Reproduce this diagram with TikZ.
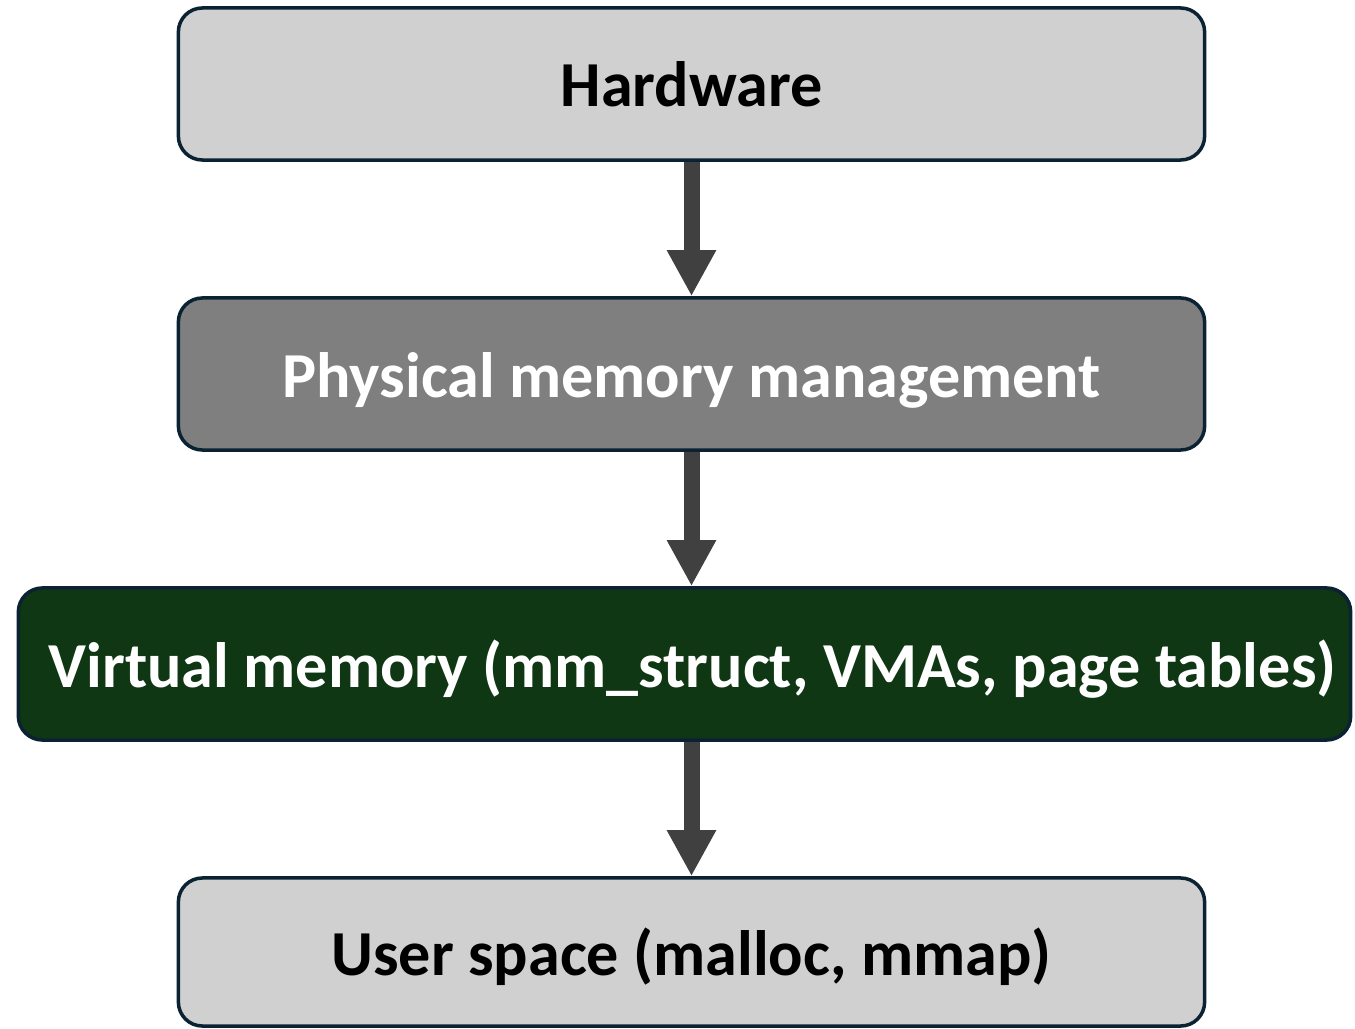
\documentclass[tikz,border=0pt]{standalone}
\usepackage{fontspec}
\setmainfont{Carlito}
\usetikzlibrary{positioning,arrows.meta}
\definecolor{boxline}{HTML}{0B2233}
\definecolor{lightbox}{HTML}{D0D0D0}
\definecolor{midbox}{HTML}{7F7F7F}
\definecolor{darkbox}{HTML}{0F3714}
\definecolor{arrowgray}{HTML}{404040}
\begin{document}
\begin{tikzpicture}[x=0.025cm, y=-0.025cm,
    layer node/.style={rectangle, rounded corners=0.6cm, draw=boxline, line width=2.5pt, minimum height=3.8cm, text height=1.15cm, text depth=0cm, font=\bfseries\fontsize{45.6}{54}\selectfont},
    thick arrow/.style={-{Triangle[width=1.15cm, length=1.15cm]}, line width=0.4cm, draw=arrowgray}]
        \useasboundingbox (0,0) rectangle (1355,1029);

          \node[layer node, fill=lightbox, minimum width=25.65cm] (hw) at (691.5,84) {Hardware};
          \node[layer node, fill=midbox, text=white, minimum width=25.65cm] (phys) at (691.5,374) {Physical memory management};
          \node[layer node, fill=darkbox, text=white, minimum width=33.3cm] (virt) at (684.5,664) {\hspace*{0.4cm}Virtual memory (mm\_struct, VMAs, page tables)};
          \node[layer node, fill=lightbox, minimum width=25.65cm, minimum height=3.7cm] (user) at (691.5,952) {User space (malloc, mmap)};

          \draw[thick arrow] (hw.south) -- (phys.north);
          \draw[thick arrow] (phys.south) -- (virt.north -| phys.south);
          \draw[thick arrow] (virt.south -| user.north) -- (user.north);

        \end{tikzpicture}
\end{document}
